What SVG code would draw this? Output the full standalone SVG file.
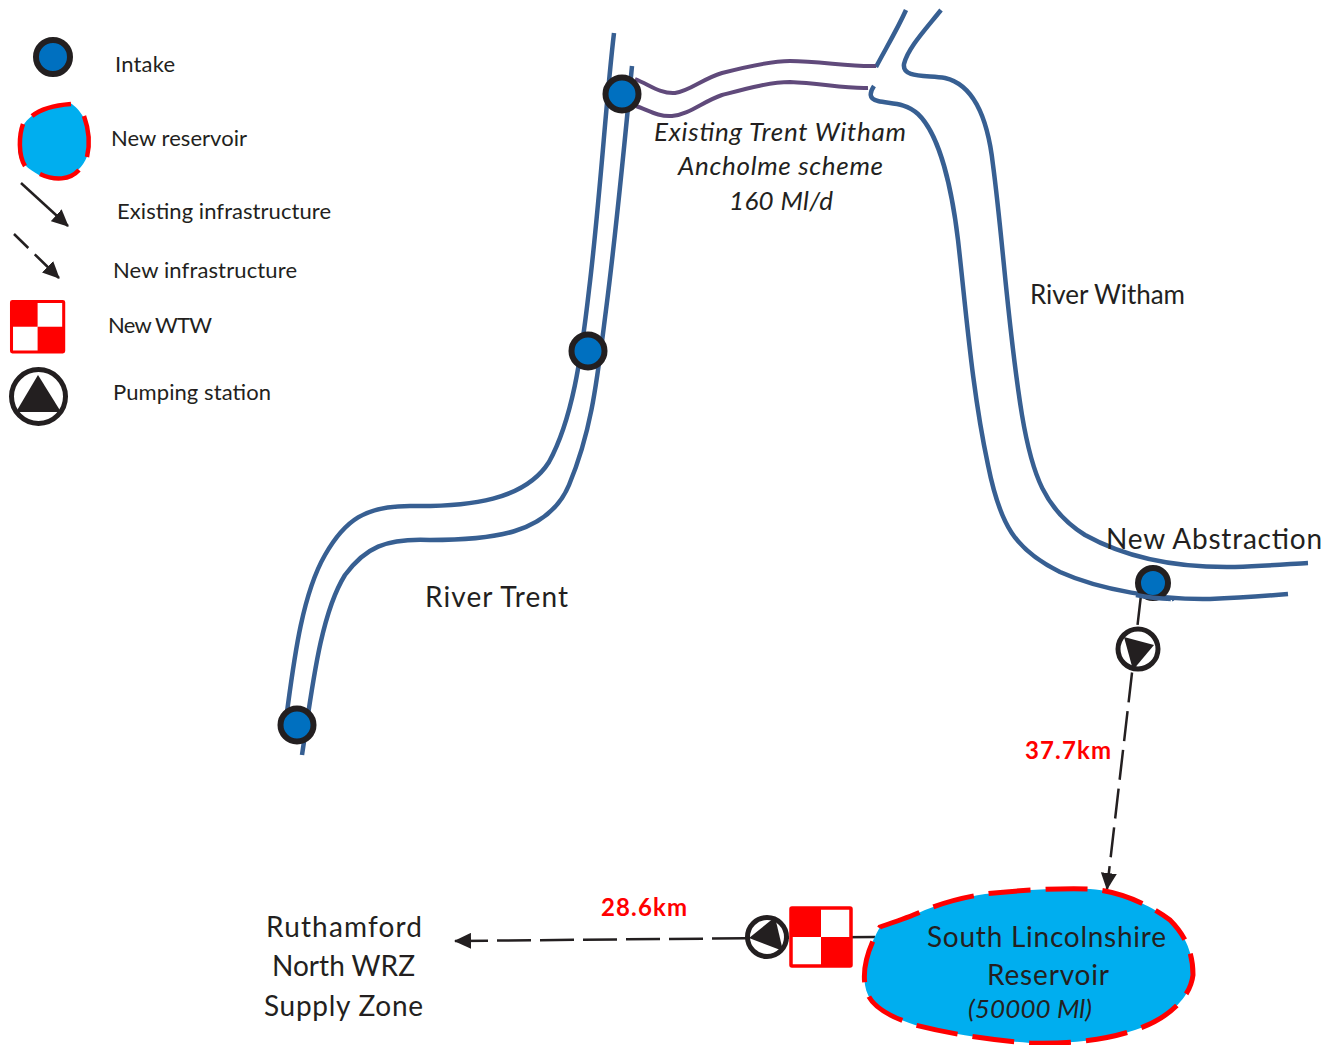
<svg xmlns="http://www.w3.org/2000/svg" width="1332" height="1045" viewBox="0 0 1332 1045">
<style>
text{font-family:Lato,"Open Sans","Liberation Sans",sans-serif;fill:#231f20;lengthAdjust:spacingAndGlyphs}
.leg{font-size:22px}
.big{font-size:28px}
.it{font-size:26px;font-style:italic}
.km{font-size:24px;font-weight:700;fill:#f00}
.river{fill:none;stroke:#375f92;stroke-width:4.5;stroke-linecap:butt}
.scheme{fill:none;stroke:#604a7b;stroke-width:4}
.intake{fill:#0070c0;stroke:#231f20;stroke-width:6}
.res{fill:#00aeef}
.resline{fill:none;stroke:#f00;stroke-linecap:butt}
.pump{fill:#fff;stroke:#231f20;stroke-width:5}
.tri{fill:#231f20}
.pipe{fill:none;stroke:#231f20;stroke-width:2.5}
</style>
<defs>
<marker id="ah" markerUnits="userSpaceOnUse" markerWidth="18" markerHeight="16" refX="16" refY="8" orient="auto"><path d="M0 0L17 8L0 16Z" fill="#231f20"/></marker>
<g id="wtw"><rect x="0" y="0" width="60" height="58" fill="#fff" stroke="#f00" stroke-width="3.5" rx="1"/><rect x="0" y="0" width="30" height="29" fill="#f00"/><rect x="30" y="29" width="30" height="29" fill="#f00"/></g>
</defs>

<g id="rivers">
<path class="river" d="M614 33C606 100 600 200 589 290C581 360 572 420 549 462C525 500 470 507 410 506C365 506 345 520 325 555C302 595 294 660 287 712"/>
<path class="river" d="M632 66C624 150 615 240 606 310C597 380 592 430 569 485C548 535 490 540 430 540C385 538 365 548 345 575C320 615 312 690 302 755"/>
<path class="river" d="M906 10C897 30 886 48 876 67"/>
<path class="river" d="M941 10C925 30 908 48 904 64C902 78 925 75 945 78C975 85 988 120 993 165C1003 240 1008 330 1022 415C1032 475 1045 510 1085 535C1130 560 1180 568 1235 567C1265 566 1290 564 1308 563"/>
<path class="river" d="M874 86C870 92 868 99 878 101C890 104 905 102 918 114C940 135 952 190 958 240C966 310 972 390 988 465C1000 525 1015 550 1060 572C1100 590 1160 600 1210 599C1240 598 1265 596 1288 594"/>
</g>
<g id="scheme">
<path class="scheme" d="M635 79C650 85 660 94 675 93C690 91 702 79 722 73C745 67 770 61 790 61C820 61 850 67 876 66"/>
<path class="scheme" d="M636 106C648 110 658 117 672 116C690 114 702 102 722 95C745 89 770 82 790 82C820 83 845 89 868 88"/>
</g>

<g id="connectors">
<path class="pipe" d="M21 183L68 226" marker-end="url(#ah)"/>
<path class="pipe" d="M14 234L59 278" stroke-dasharray="20 9" marker-end="url(#ah)"/>
<path class="pipe" d="M1141 595L1107 889" stroke-dasharray="30 9" marker-end="url(#ah)"/>
<path class="pipe" d="M875 937L455 941" stroke-dasharray="34 9" marker-end="url(#ah)"/>
</g>

<g id="legend-intake"><circle class="intake" cx="53" cy="57" r="17"/></g>
<g id="legend-reservoir">
<path class="res" d="M18 147C18 130 24 122 33 115C45 106 60 103 70 103C80 108 90 125 90 140C90 152 86 162 78 170C72 178 62 180 56 180C46 180 32 172 25 165C20 160 18 155 18 147Z"/>
<path class="resline" stroke-width="4.5" d="M32 116C42 108 58 105 71 104M84 116C89 130 90 145 87 157M79 170C70 180 55 181 40 174M23 124C19 135 18 155 25 166"/>
</g>
<g id="legend-wtw"><use href="#wtw" transform="translate(11.500 301.500) scale(.87)"/></g>
<g id="legend-pump"><circle class="pump" cx="38.500" cy="396.500" r="27"/><path class="tri" d="M38 375L61 412L16 412Z"/></g>

<g id="intake-1"><circle class="intake" cx="622" cy="94" r="16.500"/></g>
<g id="intake-2"><circle class="intake" cx="588" cy="351" r="16.500"/></g>
<g id="intake-3"><circle class="intake" cx="297" cy="725" r="16.500"/></g>
<g id="intake-4"><circle class="intake" cx="1153" cy="583" r="15"/></g>
<path class="river" d="M1136 595C1155 599 1175 599 1172 599"/>

<g id="pump-1"><circle class="pump" cx="1138" cy="649" r="20"/><path class="tri" d="M1124 637L1154 645L1133 670Z"/></g>
<g id="reservoir">
<path class="res" d="M880 927C900 920 912 916 925 910C945 902 965 897 985 894C1020 890 1060 888 1090 889C1120 891 1150 905 1170 920C1190 940 1193 960 1193 975C1190 1000 1165 1020 1135 1030C1100 1042 1060 1044 1030 1043C990 1040 950 1034 915 1025C885 1015 868 1005 865 985C862 965 870 945 880 927Z"/>
<path class="resline" stroke-width="5" stroke-dasharray="42 15" d="M880 927C900 920 912 916 925 910C945 902 965 897 985 894C1020 890 1060 888 1090 889C1120 891 1150 905 1170 920C1190 940 1193 960 1193 975C1190 1000 1165 1020 1135 1030C1100 1042 1060 1044 1030 1043C990 1040 950 1034 915 1025C885 1015 868 1005 865 985C862 965 870 945 880 927Z"/>
</g>
<g id="wtw-1"><use href="#wtw" x="791" y="908"/></g>
<g id="pump-2"><circle class="pump" cx="767" cy="937" r="19.500"/><path class="tri" d="M749 938L775 917L783 951Z"/></g>

<g id="labels">
<text class="leg" x="115" y="72" textLength="60">Intake</text>
<text class="leg" x="111" y="146" textLength="136">New reservoir</text>
<text class="leg" x="117" y="219" textLength="214">Existing infrastructure</text>
<text class="leg" x="113" y="278" textLength="184">New infrastructure</text>
<text class="leg" x="108" y="333" textLength="104">New WTW</text>
<text class="leg" x="113" y="400" textLength="158">Pumping station</text>
<text class="it" x="654" y="141" textLength="252">Existing Trent Witham</text>
<text class="it" x="678" y="175" textLength="205">Ancholme scheme</text>
<text class="it" x="729" y="210" textLength="104">160 Ml/d</text>
<text class="leg" style="font-size:26px" x="1030" y="304" textLength="155">River Witham</text>
<text class="big" x="1106" y="549" textLength="216">New Abstraction</text>
<text class="big" x="425" y="607" textLength="143">River Trent</text>
<text class="km" x="1025" y="759" textLength="86">37.7km</text>
<text class="km" x="601" y="916" textLength="86">28.6km</text>
<text class="big" x="266" y="937" textLength="156">Ruthamford</text>
<text class="big" x="272" y="976" textLength="143">North WRZ</text>
<text class="big" x="264" y="1016" textLength="159">Supply Zone</text>
<text class="big" x="927" y="947" textLength="239">South Lincolnshire</text>
<text class="big" x="987" y="985" textLength="122">Reservoir</text>
<text class="it" x="968" y="1018" textLength="124">(50000 Ml)</text>
</g>
</svg>
